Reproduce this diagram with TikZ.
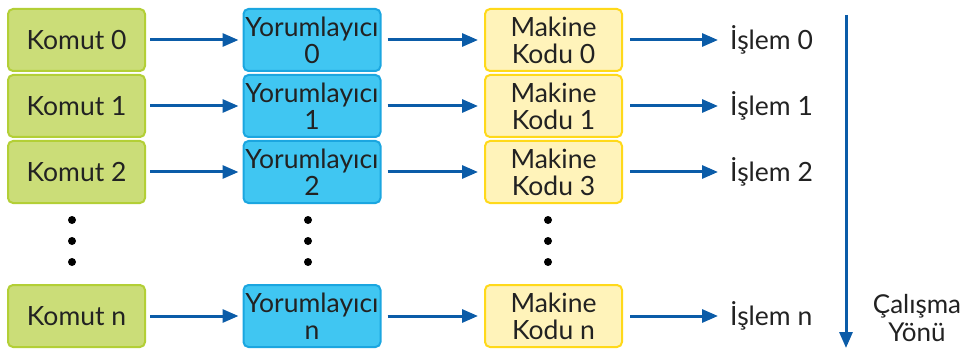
\documentclass[tikz,border=0pt]{standalone}
\usepackage{fontspec}
\setmainfont{Lato}
\usetikzlibrary{arrows.meta}
\definecolor{gfill}{HTML}{CBDD78}
\definecolor{gline}{HTML}{B3CF36}
\definecolor{bfill}{HTML}{40C6F2}
\definecolor{bline}{HTML}{1BA6E0}
\definecolor{yfill}{HTML}{FFF3BA}
\definecolor{yline}{HTML}{FFD91A}
\definecolor{arr}{HTML}{0B5CA8}
\definecolor{txt}{HTML}{222222}
\begin{document}
\begin{tikzpicture}[x=1pt,y=-1pt,
  box/.style={rounded corners=5pt,line width=2pt,minimum width=137pt,minimum height=62pt,inner sep=0pt,align=center,font=\fontsize{26.5}{27}\selectfont,text=txt},
  gbox/.style={box,fill=gfill,draw=gline},
  bbox/.style={box,fill=bfill,draw=bline},
  ybox/.style={box,fill=yfill,draw=yline},
  lbl/.style={anchor=west,inner sep=0pt,font=\fontsize{26.5}{27}\selectfont,text=txt},
  conn/.style={draw=arr,line width=3pt,-{Triangle[length=16pt,width=13pt]}},
  dot/.style={circle,fill=black,inner sep=0pt,minimum size=8pt}]
\useasboundingbox (0,0) rectangle (967,350);
% rows
\foreach \i/\y/\k/\m in {0/40/0/0,1/106/1/1,2/172/2/3,n/316/n/n}{
  \node[gbox] (g\i) at (76.5,\y) {Komut \k};
  \node[bbox] (b\i) at (312,\y) {Yorumlayıcı\\\k};
  \node[ybox] (y\i) at (553.5,\y) {Makine\\Kodu \m};
  \node[lbl] (i\i) at (730,\y) {İşlem \k};
  \draw[conn] ([xshift=4pt]g\i.east) -- ([xshift=-4pt]b\i.west);
  \draw[conn] ([xshift=6pt]b\i.east) -- ([xshift=-6pt]y\i.west);
  \draw[conn] ([xshift=7pt]y\i.east) -- ([xshift=-12pt]i\i.west);
}
% dots
\foreach \c/\x in {g/72,b/308,y/548}{
  \node[dot] (\c d1) at (\x,220) {};
  \node[dot] (\c d2) at (\x,241) {};
  \node[dot] (\c d3) at (\x,262) {};
}
% direction
\coordinate (vs) at (846,15);
\coordinate (ve) at (846,348);
\draw[conn] (vs) -- (ve);
\node[align=center,inner sep=0pt,font=\fontsize{26}{28}\selectfont,text=txt] (dir) at (917,318) {Çalışma\\Yönü};
\end{tikzpicture}
\end{document}
